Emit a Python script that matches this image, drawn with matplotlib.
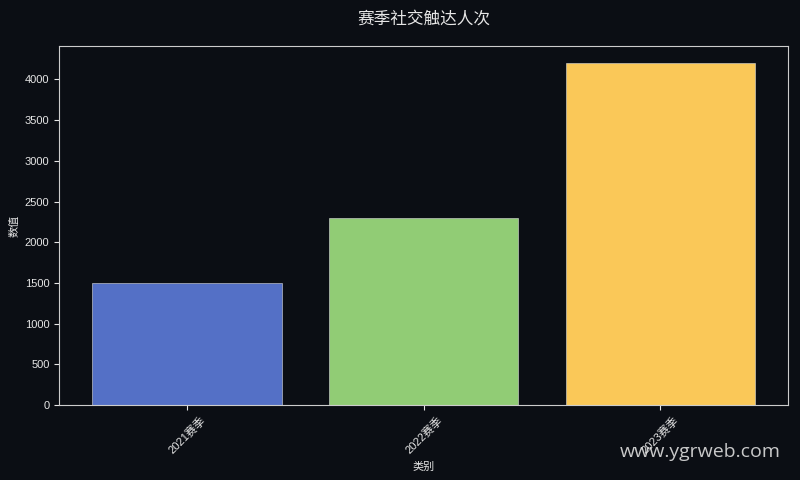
import matplotlib
matplotlib.use("Agg")
import matplotlib.pyplot as plt

categories = ["2021赛季", "2022赛季", "2023赛季"]
values = [1500, 2300, 4200]
colors = ["#5470c6", "#91cc75", "#fac858"]

plt.rcParams['font.family'] = ['Liberation Sans', 'Noto Sans CJK SC', 'DejaVu Sans']

bg = "#0b0e14"
fg = "#e6e6e6"

fig, ax = plt.subplots(figsize=(8, 4.8), dpi=100)
fig.patch.set_facecolor(bg)
ax.set_facecolor(bg)

ax.bar(categories, values, color=colors, width=0.8, edgecolor="#dddddd", linewidth=0.4)

ax.set_title("赛季社交触达人次", color=fg, fontsize=12, pad=16)
ax.set_xlabel("类别", color=fg, fontsize=8)
ax.set_ylabel("数值", color=fg, fontsize=8)
ax.tick_params(colors=fg, labelsize=8)
plt.setp(ax.get_xticklabels(), rotation=45)
for s in ax.spines.values():
    s.set_color("#cccccc")

fig.subplots_adjust(left=0.074, right=0.985, top=0.904, bottom=0.156)

fig.text(0.976, 0.04, "www.ygrweb.com", color="#dddddd", fontsize=14,
         ha="right", va="bottom", family="Open Sans", alpha=0.9)

fig.savefig("out.png", facecolor=bg)
